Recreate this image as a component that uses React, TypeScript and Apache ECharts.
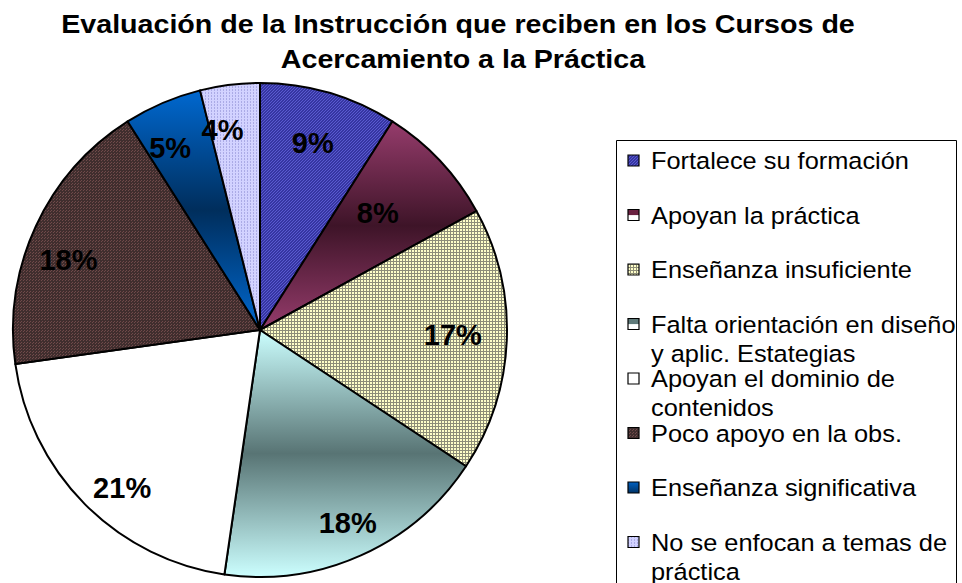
import React, { useEffect, useRef } from "react";
import * as echarts from "echarts";

const titleLines = ["Evaluación de la Instrucción que reciben en los Cursos de", "Acercamiento a la Práctica"];
const categories = [
  "Fortalece su formación",
  "Apoyan la práctica",
  "Enseñanza insuficiente",
  "Falta orientación en diseño\ny aplic. Estategias",
  "Apoyan el dominio de\ncontenidos",
  "Poco apoyo en la obs.",
  "Enseñanza significativa",
  "No se enfocan a temas de\npráctica",
];
const values = [9, 8, 17.3, 18, 20.5, 18.2, 5.1, 3.9];

const FONT = "'Liberation Sans', Arial, Helvetica, sans-serif";

function pat(size: number, bg: string, fg: string, pts: number[][]) {
  const c = document.createElement("canvas");
  c.width = size;
  c.height = size;
  const g = c.getContext("2d")!;
  g.fillStyle = bg;
  g.fillRect(0, 0, size, size);
  g.fillStyle = fg;
  pts.forEach(([x, y]) => g.fillRect(x, y, 1, 1));
  return { image: c, repeat: "repeat", imageWidth: size, imageHeight: size } as any;
}

function vgrad(stops: [number, string][]) {
  return new echarts.graphic.LinearGradient(0, 0, 0, 1, stops.map(([offset, color]) => ({ offset, color })));
}

export default function App() {
  const ref = useRef<HTMLDivElement>(null);
  useEffect(() => {
    document.body.style.margin = "0";
    const chart = echarts.init(ref.current!, null, { renderer: "svg" });

    const purple = pat(3, "#3636a2", "#5a5ad0", [[0, 0], [2, 1], [1, 2]]);
    const checker = pat(3, "#ffffc8", "#8e8e78", [[0, 0], [1, 0], [2, 0], [0, 1], [0, 2]]);
    const brown = pat(3, "#402e2e", "#704a4a", [[0, 0], [2, 1]]);
    const lav = pat(3, "#d2d2ff", "#ababe6", [[1, 0], [1, 2]]);

    const sliceFills: any[] = [
      purple,
      vgrad([[0, "#963c6c"], [0.5, "#3e1428"], [1, "#963c6c"]]),
      checker,
      vgrad([[0, "#ccffff"], [0.5, "#587474"], [1, "#ccffff"]]),
      "#ffffff",
      brown,
      vgrad([[0, "#0068d0"], [0.5, "#002e5c"], [1, "#0068d0"]]),
      lav,
    ];
    const markerFills: any[] = [
      purple,
      vgrad([[0, "#6a2040"], [0.5, "#6a2040"], [0.55, "#ffffff"], [1, "#ffffff"]]),
      checker,
      vgrad([[0, "#5f7a7a"], [0.5, "#5f7a7a"], [0.55, "#ffffff"], [1, "#ffffff"]]),
      "#ffffff",
      brown,
      vgrad([[0, "#0060c0"], [1, "#003366"]]),
      lav,
    ];

    const labelNudge = [[-3, 5], [-28, 20], [-7, -3], [6, 10], [4, 17], [-10, 14], [-11, 2], [-13, -1]];

    const graphics: any[] = [];
    titleLines.forEach((t, i) => {
      graphics.push({
        type: "text",
        x: i === 0 ? 458 : 463,
        y: i === 0 ? 24 : 59,
        scaleX: 1.08,
        style: {
          text: t,
          font: `bold 26.5px ${FONT}`,
          fill: "#000",
          align: "center",
          verticalAlign: "middle",
        },
      });
    });
    graphics.push({
      type: "rect",
      shape: { x: 616.5, y: 140.5, width: 340, height: 470 },
      style: { fill: "#fff", stroke: "#000", lineWidth: 1 },
      z: 0,
    });
    categories.forEach((name, i) => {
      const cy = 161 + i * 54.5;
      graphics.push({
        type: "rect",
        shape: { x: 628, y: cy - 6, width: 11, height: 11 },
        style: { fill: markerFills[i], stroke: "#000", lineWidth: 1.2 },
        z: 2,
      });
      name.split("\n").forEach((line, j) => {
        graphics.push({
          type: "text",
          x: 651,
          y: cy + j * 29,
          scaleX: 1.08,
          z: 2,
          style: {
            text: line,
            font: `23.5px ${FONT}`,
            fill: "#000",
            align: "left",
            verticalAlign: "middle",
          },
        });
      });
    });

    const pieData = categories.map((name, i) => ({
      name,
      value: values[i],
      itemStyle: { color: sliceFills[i] },
    }));

    chart.setOption({
      animation: false,
      backgroundColor: "#ffffff",
      graphic: graphics,
      series: [
        {
          type: "pie",
          center: [260, 330],
          radius: 247,
          startAngle: 90,
          clockwise: true,
          silent: true,
          avoidLabelOverlap: false,
          label: { show: false },
          labelLine: { show: false },
          itemStyle: { borderColor: "#000", borderWidth: 2 },
          data: pieData,
        },
        {
          type: "pie",
          center: [260, 330],
          radius: 394,
          startAngle: 90,
          clockwise: true,
          silent: true,
          percentPrecision: 0,
          avoidLabelOverlap: false,
          z: 5,
          itemStyle: { color: "rgba(0,0,0,0)", borderWidth: 0 },
          label: {
            show: true,
            position: "inside",
            formatter: "{d}%",
            fontFamily: FONT,
            fontWeight: "bold",
            fontSize: 29,
            color: "#000",
          },
          labelLine: { show: false },
          labelLayout: (p: any) => {
            const n = labelNudge[p.dataIndex] || [0, 0];
            return { dx: n[0], dy: n[1] };
          },
          data: categories.map((name, i) => ({ name, value: values[i] })),
        },
      ],
    });
    return () => chart.dispose();
  }, []);
  return <div ref={ref} style={{ width: 962, height: 583 }} />;
}
